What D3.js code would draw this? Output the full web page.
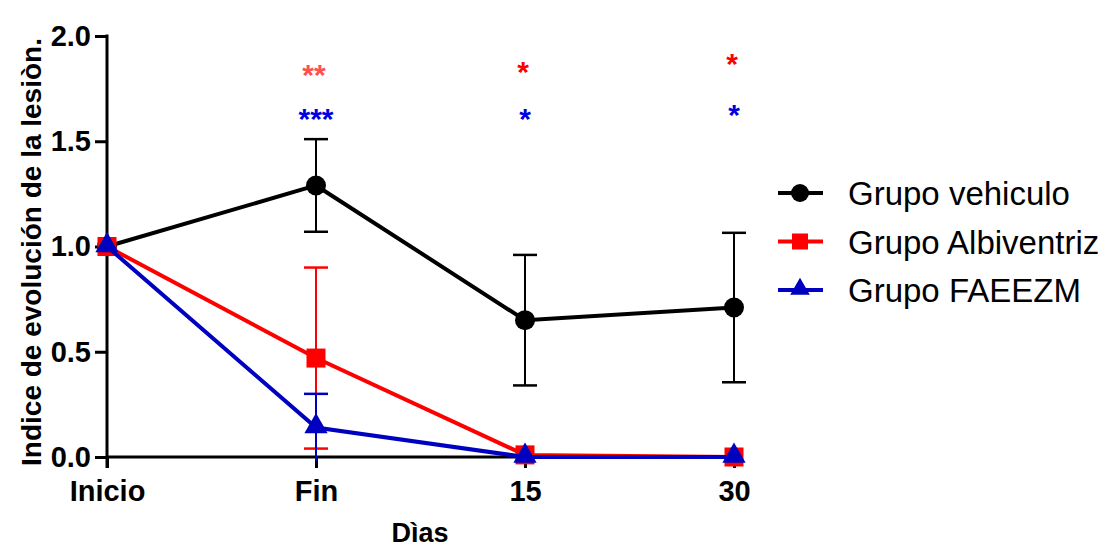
<!DOCTYPE html>
<html>
<head>
<meta charset="utf-8">
<script src="https://cdn.jsdelivr.net/npm/d3@7"></script>
<style>
  body { margin: 0; background: #fff; }
  svg { font-family: Arial, "Liberation Sans", sans-serif; }
</style>
</head>
<body>
<script>
// Chart size
const w = 1115;
const h = 547;

// Categories and tick labels
const days = ["Inicio", "Fin", "15", "30"];
const yTicks = [0, 0.5, 1, 1.5, 2];

// Series values (mean) and error (SD)
const vehiculo = [1.0, 1.29, 0.65, 0.71];
const vehiculoErr = [0, 0.22, 0.31, 0.355];
const albiventriz = [1.0, 0.47, 0.01, 0.0];
const albiventrizErr = [0, 0.43, 0, 0];
const faeezm = [1.0, 0.14, 0.0, 0.0];
const faeezmErr = [0, 0.16, 0, 0];

// Significance marks: [day, y value, text]
const sigRed = [["Fin", 1.85, "**"], ["15", 1.86, "*"], ["30", 1.9, "*"]];
const sigBlue = [["Fin", 1.64, "***"], ["15", 1.64, "*"], ["30", 1.66, "*"]];

const legendNames = ["Grupo vehiculo", "Grupo Albiventriz", "Grupo FAEEZM"];

const series = [
  { name: legendNames[0], values: vehiculo, err: vehiculoErr, color: "#000000", shape: "circle" },
  { name: legendNames[1], values: albiventriz, err: albiventrizErr, color: "#ff0000", shape: "square" },
  { name: legendNames[2], values: faeezm, err: faeezmErr, color: "#0000c0", shape: "triangle" }
];

const svg = d3.select("body").append("svg").attr("width", w).attr("height", h);

const x = d3.scalePoint().domain(days).range([107, 734]);
const y = d3.scaleLinear().domain([0, 2]).range([457, 36]);

// Axes
const yAxis = svg.append("g")
  .attr("transform", "translate(107,0)")
  .call(d3.axisLeft(y).tickValues(yTicks).tickFormat(d3.format(".1f")).tickSize(12).tickSizeOuter(0));
yAxis.select(".domain").remove();
yAxis.selectAll("line").attr("stroke-width", 3);
yAxis.selectAll("text").attr("font-size", 29).attr("font-weight", "bold").attr("dx", -1).attr("fill", "#000");

const xAxis = svg.append("g")
  .attr("transform", "translate(0,457)")
  .call(d3.axisBottom(x).tickSize(11).tickSizeOuter(0));
xAxis.select(".domain").remove();
xAxis.selectAll("line").attr("stroke-width", 3);
xAxis.selectAll("text").attr("font-size", 29).attr("font-weight", "bold").attr("dy", 30).attr("fill", "#000");

// axis lines
svg.append("line").attr("x1", 107).attr("x2", 107).attr("y1", y(2) - 1.5).attr("y2", y(0) + 11)
  .attr("stroke", "#000").attr("stroke-width", 3);
svg.append("line").attr("x1", 107).attr("x2", 734).attr("y1", y(0)).attr("y2", y(0))
  .attr("stroke", "#000").attr("stroke-width", 3);

// Axis titles
svg.append("text").attr("x", 420).attr("y", 542).attr("text-anchor", "middle")
  .attr("font-size", 27).attr("font-weight", "bold").text("Dìas");
svg.append("text").attr("transform", "translate(41,252) rotate(-90)").attr("text-anchor", "middle")
  .attr("font-size", 28).attr("font-weight", "bold").text("Indice de evolución de la lesiòn.");

// Marker drawing
function marker(g, shape, color, cx, cy, size) {
  if (shape === "circle") {
    g.append("circle").attr("cx", cx).attr("cy", cy).attr("r", size / 2).attr("fill", color);
  } else if (shape === "square") {
    g.append("rect").attr("x", cx - size / 2).attr("y", cy - size / 2)
      .attr("width", size).attr("height", size).attr("fill", color);
  } else {
    g.append("path").attr("d", d3.symbol().type(d3.symbolTriangle).size(size * size * 0.65)())
      .attr("transform", "translate(" + cx + "," + (cy - 1) + ")").attr("fill", color);
  }
}

const line = d3.line().x((d, i) => x(days[i])).y(d => y(d));

series.forEach(s => {
  const g = svg.append("g");
  // error bars
  s.values.forEach((v, i) => {
    if (s.err[i] <= 0) return;
    const cx = x(days[i]);
    const top = y(v + s.err[i]);
    const bot = y(Math.max(v - s.err[i], -0.03));
    g.append("line").attr("x1", cx).attr("x2", cx).attr("y1", top).attr("y2", bot)
      .attr("stroke", s.color).attr("stroke-width", 2);
    g.append("line").attr("x1", cx - 12).attr("x2", cx + 12).attr("y1", top).attr("y2", top)
      .attr("stroke", s.color).attr("stroke-width", 2.5);
    if (v - s.err[i] > 0) {
      g.append("line").attr("x1", cx - 12).attr("x2", cx + 12).attr("y1", bot).attr("y2", bot)
        .attr("stroke", s.color).attr("stroke-width", 2.5);
    }
  });
  g.append("path").datum(s.values).attr("d", line)
    .attr("fill", "none").attr("stroke", s.color).attr("stroke-width", 4);
  s.values.forEach((v, i) => {
    marker(g, s.shape, s.color, x(days[i]), y(v), s.shape === "circle" ? 20 : 19);
  });
});

// Significance asterisks
svg.selectAll(".sigr").data(sigRed).enter().append("text")
  .attr("x", d => x(d[0]) - 2).attr("y", d => y(d[1]) + 17)
  .attr("text-anchor", "middle").attr("font-size", 30).attr("font-weight", "bold")
  .attr("fill", (d, i) => i === 0 ? "#ff5050" : "#ff0000").text(d => d[2]);
svg.selectAll(".sigb").data(sigBlue).enter().append("text")
  .attr("x", d => x(d[0])).attr("y", d => y(d[1]) + 17)
  .attr("text-anchor", "middle").attr("font-size", 30).attr("font-weight", "bold")
  .attr("fill", "#0000e0").text(d => d[2]);

// Legend
const legend = svg.append("g");
series.forEach((s, i) => {
  const ly = 193 + i * 48.5;
  legend.append("line").attr("x1", 778).attr("x2", 823).attr("y1", ly).attr("y2", ly)
    .attr("stroke", s.color).attr("stroke-width", 4);
  marker(legend, s.shape, s.color, 800, ly, s.shape === "circle" ? 18 : 16);
  legend.append("text").attr("x", 848).attr("y", ly + 12).attr("font-size", 33)
    .attr("fill", "#000").text(s.name);
});
</script>
</body>
</html>
